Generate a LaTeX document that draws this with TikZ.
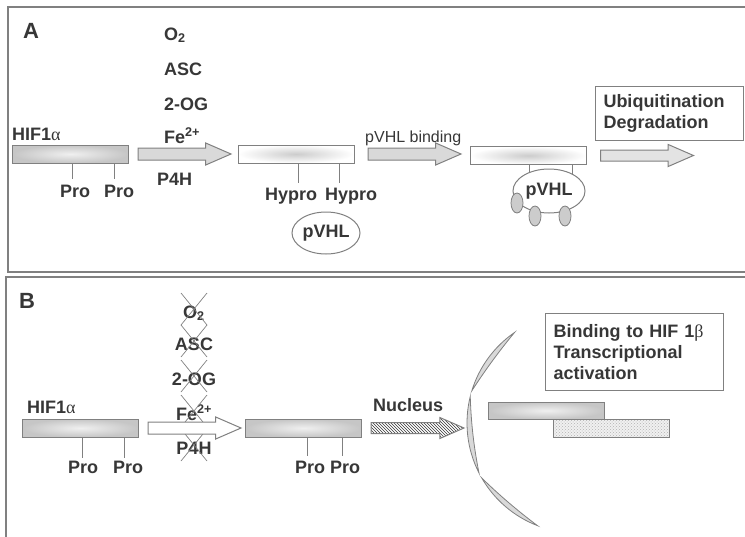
\documentclass[tikz,border=0pt]{standalone}
\usepackage{fontspec}
\setmainfont{Liberation Sans}
\newfontfamily\greekfont{Liberation Serif}
\newcommand\grk[1]{{\greekfont\mdseries #1}}
\usetikzlibrary{positioning,calc,backgrounds,patterns,shapes.geometric,shapes.arrows}
\definecolor{edge}{RGB}{128,128,128}
\definecolor{ink}{RGB}{55,55,55}

\begin{document}
\begin{tikzpicture}[x=1pt, y=1pt,
    lbl/.style={font=\bfseries\fontsize{18}{21}\selectfont, text=ink, inner sep=0pt},
    thin label/.style={font=\fontsize{16}{19}\selectfont, text=ink, inner sep=0pt},
    panel label/.style={font=\bfseries\fontsize{22}{24}\selectfont, text=ink, inner sep=0pt},
    panelframe/.style={draw=edge, line width=1.5pt},
    bar/.style={draw=edge, line width=1pt, minimum width=116pt, minimum height=18pt, inner sep=0pt},
    graybar/.style={bar, inner color=gray!12, outer color=gray!45},
    whitebar/.style={bar, inner color=gray!40, outer color=white},
    fat/.style={single arrow, draw=edge, line width=1pt, inner xsep=0pt, inner ysep=5.5pt,
        single arrow head extend=5pt, single arrow tip angle=47,
        minimum height=93pt},
    pvhl/.style={ellipse, draw=edge, line width=1pt, fill=white, inner sep=0pt,
        font=\bfseries\fontsize{18}{21}\selectfont, text=ink},
    bead/.style={ellipse, draw=edge, line width=0.8pt, fill=gray!40,
        minimum width=12pt, minimum height=20pt, inner sep=0pt},
    textbox/.style={draw=edge, line width=1pt, align=left, anchor=north west,
        font=\bfseries\fontsize{18}{21}\selectfont, text=ink, inner xsep=8pt},
    protick/.style={draw=edge, line width=0.8pt},
    xline/.style={draw=edge, line width=0.7pt},
    membrane/.style={draw=edge, fill=gray!30, line width=0.8pt}
]
    \useasboundingbox (0,0) rectangle (745,-536);
    \clip (0,0) rectangle (745,-536);

    \def\protick#1#2#3{%
        \draw[protick] ([xshift=#2]#1.south west) -- ++(0,-#3);
    }
    \def\knockout#1{%
        \draw[xline] ([shift={(-13,-7)}]#1.base) -- ([shift={(13,25)}]#1.base)
                     ([shift={(-13,25)}]#1.base) -- ([shift={(13,-7)}]#1.base);
    }
    \def\membrane#1#2{%
        \filldraw[membrane] ($(nuc)+(#1:110)$) arc[start angle=#1, end angle=#2, radius=110]
            .. controls ($(nuc)+({#2-(#2-#1)/3}:106)$) and ($(nuc)+({#1+(#2-#1)/3}:106)$)
            .. ($(nuc)+(#1:110)$) -- cycle;
    }

    \draw[panelframe] (8,-7) rectangle (760,-272);
    \draw[panelframe] (6,-277) rectangle (760,-560);

    \node[panel label] (labA) at (31,-31) {A};

    \node[graybar] (hifA) at (70.5,-154) {};
    \node[lbl, anchor=base west] (hifAtxt) at (12,-140) {HIF1\grk{α}};
    \protick{hifA}{60pt}{15}
    \protick{hifA}{102pt}{15}
    \node[lbl, anchor=base west] (proA1) at (60,-197) {Pro};
    \node[lbl, anchor=base west] (proA2) at (104,-197) {Pro};

    \node[lbl, anchor=base west] (o2A) at (164,-40) {O\textsubscript{2}};
    \node[lbl, anchor=base west] (ascA) at (164,-75) {ASC};
    \node[lbl, anchor=base west] (ogA) at (164,-110) {2-OG};
    \node[lbl, anchor=base west] (feA) at (164,-143) {Fe\textsuperscript{2+}};
    \node[lbl, anchor=base west] (p4hA) at (157,-185) {P4H};

    \node[fat, fill=gray!30, right=8.5pt of hifA] (arrA1) {};
    \node[whitebar] (hypA) at (296,-154) {};
    \protick{hypA}{61pt}{19}
    \protick{hypA}{102pt}{19}
    \node[lbl, anchor=base west] (hyproA1) at (265,-200) {Hypro};
    \node[lbl, anchor=base west] (hyproA2) at (325,-200) {Hypro};
    \node[pvhl, minimum width=68pt, minimum height=42pt] (vhlA) at (326,-233) {pVHL};

    \node[fat, fill=gray!30, right=13pt of hypA] (arrA2) {};
    \node[thin label, anchor=base west] (bindtxt) at (365,-142) {pVHL binding};
    \node[whitebar] (boundA) at (528.5,-155.5) {};
    \node[pvhl, minimum width=72pt, minimum height=44pt] (vhlB) at (549,-191) {pVHL};
    \begin{scope}[on background layer]
        \protick{boundA}{59pt}{25}
        \protick{boundA}{102pt}{25}
    \end{scope}
    \node[bead] (bead1) at (517,-203) {};
    \node[bead] (bead2) at (535,-216) {};
    \node[bead] (bead3) at (565,-216) {};

    \node[fat, fill=gray!22, inner ysep=5pt, single arrow head extend=5.5pt, right=13pt of boundA] (arrA3) {};
    \node[textbox, text width=132pt, inner ysep=8pt] (fateA) at (595,-86) {Ubiquitination\\Degradation};

    \node[panel label] (labB) at (27,-301) {B};

    \node[graybar] (hifB) at (80.5,-428) {};
    \node[lbl, anchor=base west] (hifBtxt) at (27,-413) {HIF1\grk{α}};
    \protick{hifB}{60pt}{20}
    \protick{hifB}{102pt}{20}
    \node[lbl, anchor=base west] (proB1) at (68,-473) {Pro};
    \node[lbl, anchor=base west] (proB2) at (113,-473) {Pro};

    \node[lbl, anchor=base] (o2B) at (194,-318) {O\textsubscript{2}};
    \node[lbl, anchor=base] (ascB) at (194,-350) {ASC};
    \node[lbl, anchor=base] (ogB) at (194,-385) {2-OG};
    \node[lbl, anchor=base] (feB) at (194,-420) {Fe\textsuperscript{2+}};
    \node[lbl, anchor=base] (p4hB) at (194,-454) {P4H};
    \foreach \cof in {o2B, ascB, ogB, feB, p4hB} {
        \knockout{\cof}
    }

    \node[fat, fill=white, right=8.5pt of hifB] (arrB1) {};
    \node[graybar] (stableB) at (303.5,-428) {};
    \protick{stableB}{62pt}{18}
    \protick{stableB}{97pt}{18}
    \node[lbl, anchor=base west] (proB3) at (295,-473) {Pro};
    \node[lbl, anchor=base west] (proB4) at (330,-473) {Pro};

    \node[fat, preaction={fill=white}, pattern=north west lines, pattern color=ink,
        inner ysep=5pt, right=8.5pt of stableB] (arrB2) {};
    \node[lbl, anchor=base west] (nuctxt) at (373,-411) {Nucleus};

    \coordinate (nuc) at (577,-423);
    \membrane{124.6}{163}
    \membrane{166}{207}
    \membrane{210}{249}

    \node[textbox, text width=162pt, inner ysep=11pt] (fateB) at (545,-313) {Binding to HIF 1\grk{β}\\Transcriptional\\activation};
    \node[graybar, minimum height=17pt] (hifNuc) at (546.5,-410.5) {};
    \node[bar, preaction={fill=gray!12}, pattern=crosshatch dots, pattern color=gray!60] (hifBeta) at (611.5,-428) {};
\end{tikzpicture}
\end{document}
